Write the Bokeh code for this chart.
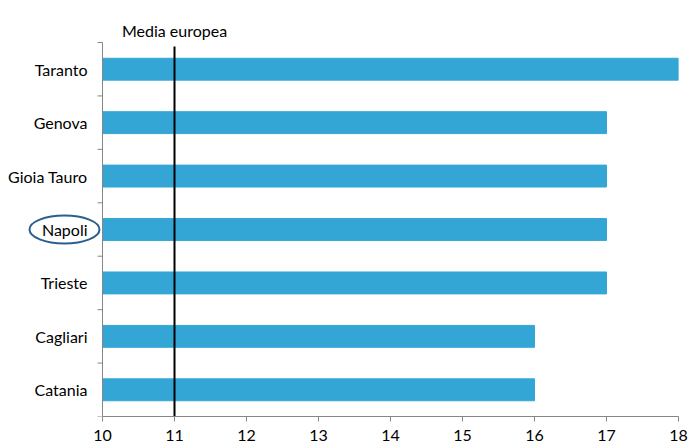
import numpy as np
from bokeh.plotting import figure
from bokeh.models import FixedTicker, Range1d
from bokeh.core.properties import value
from bokeh.embed import file_html
from bokeh.resources import INLINE

# data (bottom to top)
ports = ["Catania", "Cagliari", "Trieste", "Napoli", "Gioia Tauro", "Genova", "Taranto"]
values = [16, 16, 17, 17, 17, 17, 18]
media_europea = 11
media_label = "Media europea"
highlight = "Napoli"
x_ticks = [10, 11, 12, 13, 14, 15, 16, 17, 18]

FONT = "Lato"
FS = "16px"
BAR = "#34A6D6"
AXIS = "#868686"

W, H = 699, 446
PLOT_L, PLOT_R, PLOT_T, PLOT_B = 102, 678, 42, 416   # inner axis box in px

n = len(ports)
ypos = [i + 0.5 for i in range(n)]
xmin, xmax = x_ticks[0], x_ticks[-1]
px_per_x = (PLOT_R - PLOT_L) / (xmax - xmin)
px_per_y = (PLOT_B - PLOT_T) / n

# frame spans from the left edge of the figure to the right end of the axis,
# and from the top of the figure to the x axis
x_start = xmin - PLOT_L / px_per_x
y_end = n + PLOT_T / px_per_y

p = figure(width=W, height=H, output_backend="svg", toolbar_location=None,
           x_range=Range1d(x_start, xmax), y_range=Range1d(0, y_end),
           min_border_left=0, min_border_right=W - PLOT_R, min_border_top=0,
           min_border_bottom=H - PLOT_B)
p.outline_line_color = None
p.xgrid.visible = False
p.ygrid.visible = False
p.yaxis.visible = False

p.hbar(y=ypos, left=xmin, right=values, height=0.41, color=BAR)

# x axis
xa = p.xaxis[0]
xa.bounds = (xmin, xmax)
xa.ticker = FixedTicker(ticks=x_ticks, minor_ticks=[])
xa.axis_line_color = AXIS
xa.major_tick_line_color = AXIS
xa.major_tick_out = 5
xa.major_tick_in = 0
xa.minor_tick_line_color = None
xa.major_label_text_font = FONT
xa.major_label_text_font_size = FS
xa.major_label_text_color = "black"
xa.major_label_standoff = 8

# y axis drawn in the frame: line, boundary ticks, labels
tick_len = 5 / px_per_x
p.segment(x0=[xmin], y0=[0], x1=[xmin], y1=[n], line_color=AXIS, line_width=1)
bounds = list(range(n + 1))
p.segment(x0=[xmin - tick_len] * len(bounds), y0=bounds, x1=[xmin] * len(bounds), y1=bounds,
          line_color=AXIS, line_width=1)
p.text(x=[xmin] * n, y=ypos, text=ports, x_offset=-15, text_align="right",
       text_baseline="middle", text_font=value(FONT), text_font_size=FS, text_color="black")

# European average line and its label
p.segment(x0=[media_europea], y0=[n - 4 / px_per_y], x1=[media_europea], y1=[0],
          line_color="black", line_width=2)
p.text(x=[media_europea], y=[n], text=[media_label], y_offset=-12, text_align="center",
       text_baseline="alphabetic", text_font=value(FONT), text_font_size=FS, text_color="black")

# ellipse round the highlighted label
yi = ports.index(highlight) + 0.5
p.ellipse(x=[xmin - 38 / px_per_x], y=[yi], width=70 / px_per_x, height=28,
          height_units="screen", fill_color=None, line_color="#2C5F8E", line_width=2)

open("out.html", "w").write(file_html(p, INLINE))
